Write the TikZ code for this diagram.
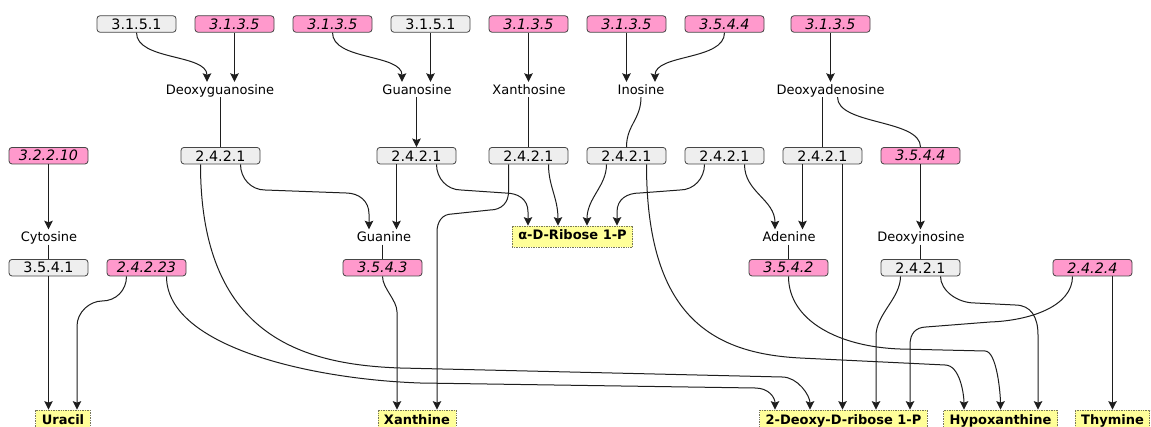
\documentclass[tikz,border=0pt]{standalone}
\usepackage{fontspec}
\setmainfont{DejaVu Sans}
\usetikzlibrary{arrows.meta,calc}
\definecolor{grayfill}{RGB}{238,238,238}
\definecolor{pinkfill}{RGB}{255,153,204}
\definecolor{yellowfill}{RGB}{255,255,153}
\definecolor{edgecol}{RGB}{70,70,70}
\definecolor{dotcol}{RGB}{120,120,90}
\definecolor{linecol}{RGB}{30,30,30}
\newcommand\ecsize{\fontsize{14.3pt}{16pt}\selectfont}
\newcommand\lblsize{\fontsize{13pt}{15pt}\selectfont}
\begin{document}
\begin{tikzpicture}[x=1pt,y=1pt,
 ecbox/.style={draw=edgecol, line width=0.8pt, rounded corners=3pt, minimum width=79pt, minimum height=16.5pt, inner sep=0pt, font=\ecsize},
 gec/.style={ecbox, fill=grayfill},
 pec/.style={ecbox, fill=pinkfill, font=\ecsize\itshape},
 lbl/.style={inner sep=0pt, text height=12.5pt, text depth=2.5pt, font=\lblsize, anchor=base},
 prod/.style={draw=dotcol, densely dotted, line width=0.7pt, fill=yellowfill, font=\lblsize\bfseries, inner xsep=6pt, inner ysep=0pt, text height=9.5pt, text depth=2.5pt, minimum height=21pt},
 conn/.style={draw=linecol, line width=1pt},
 arr/.style={conn, -{Stealth[length=8.5pt,width=8.5pt,inset=1.5pt]}},
 ]
\useasboundingbox (0,0) rectangle (1151,-427);
\fill[white] (0,0) rectangle (1151,-427);
% row 1
\node[gec] (a1) at (136.5,-24) {3.1.5.1};
\node[pec] (a2) at (234.5,-24) {3.1.3.5};
\node[pec] (a3) at (332.5,-24) {3.1.3.5};
\node[gec] (a4) at (430.5,-24) {3.1.5.1};
\node[pec] (a5) at (528.5,-24) {3.1.3.5};
\node[pec] (a6) at (626.5,-24) {3.1.3.5};
\node[pec] (a7) at (724.5,-24) {3.5.4.4};
\node[pec] (a8) at (830.5,-24) {3.1.3.5};
% row 2
\node[lbl] (dG) at (220,-94.5) {Deoxyguanosine};
\node[lbl] (Gs) at (417,-94.5) {Guanosine};
\node[lbl] (Xs) at (529,-94.5) {Xanthosine};
\node[lbl] (Is) at (641,-94.5) {Inosine};
\node[lbl] (dA) at (830.5,-94.5) {Deoxyadenosine};
% row 3
\node[pec] (c1) at (48.5,-155.7) {3.2.2.10};
\node[gec] (b1) at (220.5,-155.7) {2.4.2.1};
\node[gec] (b2) at (416.5,-155.7) {2.4.2.1};
\node[gec] (b3) at (528.5,-155.7) {2.4.2.1};
\node[gec] (b4) at (626.5,-155.7) {2.4.2.1};
\node[gec] (b5) at (724.5,-155.7) {2.4.2.1};
\node[gec] (b6) at (822.5,-155.7) {2.4.2.1};
\node[pec] (c2) at (920.5,-155.7) {3.5.4.4};
% row 4
\node[lbl] (Cy) at (49,-242) {Cytosine};
\node[lbl] (Gu) at (384,-242) {Guanine};
\node[prod] (Rib) at (572.5,-236.5) {α-D-Ribose 1-P};
\node[lbl] (Ad) at (789,-242) {Adenine};
\node[lbl] (dI) at (921,-242) {Deoxyinosine};
% row 5
\node[gec] (d1) at (48.5,-267.7) {3.5.4.1};
\node[pec] (d2) at (146.5,-267.7) {2.4.2.23};
\node[pec] (d3) at (382.5,-267.7) {3.5.4.3};
\node[pec] (d4) at (788.5,-267.7) {3.5.4.2};
\node[gec] (d5) at (920.5,-267.7) {2.4.2.1};
\node[pec] (d6) at (1092.5,-267.7) {2.4.2.4};
% row 6
\node[prod] (Ur) at (63,-420.5) {Uracil};
\node[prod] (Xa) at (417,-420.5) {Xanthine};
\node[prod] (DR) at (843.5,-420.5) {2-Deoxy-D-ribose 1-P};
\node[prod] (Hy) at (1000.5,-420.5) {Hypoxanthine};
\node[prod] (Th) at (1112.5,-420.5) {Thymine};

% row1 -> row2
\draw[arr] (a1.south) to[out=-90,in=90,out distance=28pt,in distance=28pt] ([xshift=-13pt]dG.north);
\draw[arr] (a2.south) -- (a2.south |- dG.north);
\draw[arr] (a3.south) to[out=-90,in=90,out distance=28pt,in distance=28pt] ([xshift=-15pt]Gs.north);
\draw[arr] (a4.south) -- (a4.south |- Gs.north);
\draw[arr] (a5.south) -- (a5.south |- Xs.north);
\draw[arr] (a6.south) -- (a6.south |- Is.north);
\draw[arr] (a7.south) to[out=-90,in=90,out distance=28pt,in distance=28pt] ([xshift=14pt]Is.north);
\draw[arr] (a8.south) -- (a8.south |- dA.north);

% row2 -> row3
\draw[conn] (b1.north |- dG.south) -- (b1.north);
\draw[arr] (b2.north |- Gs.south) -- (b2.north);
\draw[conn] (b3.north |- Xs.south) -- (b3.north);
\draw[conn] (Is.south) to[out=-90,in=90,out distance=22pt,in distance=22pt] (b4.north);
\draw[conn] (b6.north |- dA.south) -- (b6.north);
\draw[conn] ([xshift=7pt]dA.south) to[out=-90,in=90,out distance=28pt,in distance=28pt] (c2.north);

% row3 -> row4
\draw[arr] (c1.south) -- (c1.south |- Cy.north);
\draw[arr] ([xshift=20pt]b1.south) to[out=-90,in=180,out distance=14pt,in distance=14pt] (265,-190) -- (346,-193) to[out=0,in=90,out distance=13pt,in distance=13pt] (369,-214) -- ([xshift=-15pt]Gu.north);
\draw[arr] ([xshift=-20pt]b2.south) -- ([xshift=-20pt]b2.south |- Gu.north);
\draw[arr] ([xshift=20pt]b2.south) to[out=-90,in=180,out distance=14pt,in distance=14pt] (461,-190) -- (505,-193) to[out=0,in=90,out distance=13pt,in distance=13pt] (528,-212) -- ([xshift=-44.5pt]Rib.north);
\draw[arr] ([xshift=20pt]b3.south) to[out=-90,in=90,out distance=22pt,in distance=28pt] ([xshift=-14.5pt]Rib.north);
\draw[arr] ([xshift=-20pt]b4.south) to[out=-90,in=90,out distance=22pt,in distance=28pt] ([xshift=14.5pt]Rib.north);
\draw[arr] ([xshift=-20pt]b5.south) to[out=-90,in=0,out distance=14pt,in distance=14pt] (680,-190) -- (640,-193) to[out=180,in=90,out distance=13pt,in distance=13pt] (617,-212) -- ([xshift=44.5pt]Rib.north);
\draw[arr] ([xshift=20pt]b5.south) to[out=-90,in=90,out distance=28pt,in distance=30pt] ([xshift=-14pt]Ad.north);
\draw[arr] ([xshift=-20pt]b6.south) -- ([xshift=-20pt]b6.south |- Ad.north);
\draw[arr] (c2.south) -- (c2.south |- dI.north);

% row4 -> row5
\draw[conn] (d1.north |- Cy.south) -- (d1.north);
\draw[conn] (d3.north |- Gu.south) -- (d3.north);
\draw[conn] (d4.north |- Ad.south) -- (d4.north);
\draw[conn] (d5.north |- dI.south) -- (d5.north);

% to products
\draw[arr] (d1.south) -- (d1.south |- Ur.north);
\draw[arr] ([xshift=-20pt]d2.south) to[out=-90,in=0,out distance=14pt,in distance=14pt] (102,-301) to[out=180,in=90,out distance=12pt,in distance=14pt] (77,-326) -- ([xshift=14pt]Ur.north);
\draw[arr] ([xshift=20pt]d2.south) to[out=-90,in=178,out distance=70pt,in distance=110pt] (420,-383) -- (755,-388) to[out=0,in=90,out distance=14pt,in distance=12pt] ([xshift=-68.5pt]DR.north);
\draw[arr] ([xshift=-20pt]b1.south) to[out=-90,in=178,out distance=170pt,in distance=100pt] (400,-368) -- (782,-377) to[out=0,in=90,out distance=16pt,in distance=14pt] ([xshift=-33.5pt]DR.north);
\draw[arr] (d3.south) to[out=-90,in=90,out distance=12pt,in distance=12pt] (397,-312) -- ([xshift=-20pt]Xa.north);
\draw[arr] ([xshift=-20pt]b3.south) -- (508.5,-192) to[out=-90,in=0,out distance=10pt,in distance=12pt] (490,-210) -- (452,-214) to[out=180,in=90,out distance=10pt,in distance=10pt] (437,-232) -- ([xshift=20pt]Xa.north);
\draw[arr] ([xshift=20pt]b4.south) to[out=-90,in=177,out distance=150pt,in distance=90pt] (800,-358) -- (945,-365) to[out=0,in=90,out distance=15pt,in distance=15pt] ([xshift=-36.5pt]Hy.north);
\draw[arr] ([xshift=20pt]b6.south) -- ([xshift=20pt]b6.south |- DR.north);
\draw[arr] (d4.south) to[out=-90,in=178,out distance=45pt,in distance=60pt] (900,-349) -- (985,-351) to[out=0,in=90,out distance=12pt,in distance=15pt] (Hy.north);
\draw[arr] ([xshift=-20pt]d5.south) to[out=-90,in=90,out distance=22pt,in distance=22pt] (876,-336) -- ([xshift=32.5pt]DR.north);
\draw[arr] ([xshift=20pt]d5.south) to[out=-90,in=180,out distance=14pt,in distance=18pt] (975,-303) -- (1015,-305) to[out=0,in=90,out distance=16pt,in distance=18pt] (1038,-335) -- ([xshift=37.5pt]Hy.north);
\draw[arr] ([xshift=-20pt]d6.south) to[out=-90,in=2,out distance=30pt,in distance=40pt] (990,-322) -- (926,-327) to[out=182,in=90,out distance=10pt,in distance=12pt] (910,-345) -- ([xshift=66.5pt]DR.north);
\draw[arr] ([xshift=20pt]d6.south) -- ([xshift=20pt]d6.south |- Th.north);
\end{tikzpicture}
\end{document}
